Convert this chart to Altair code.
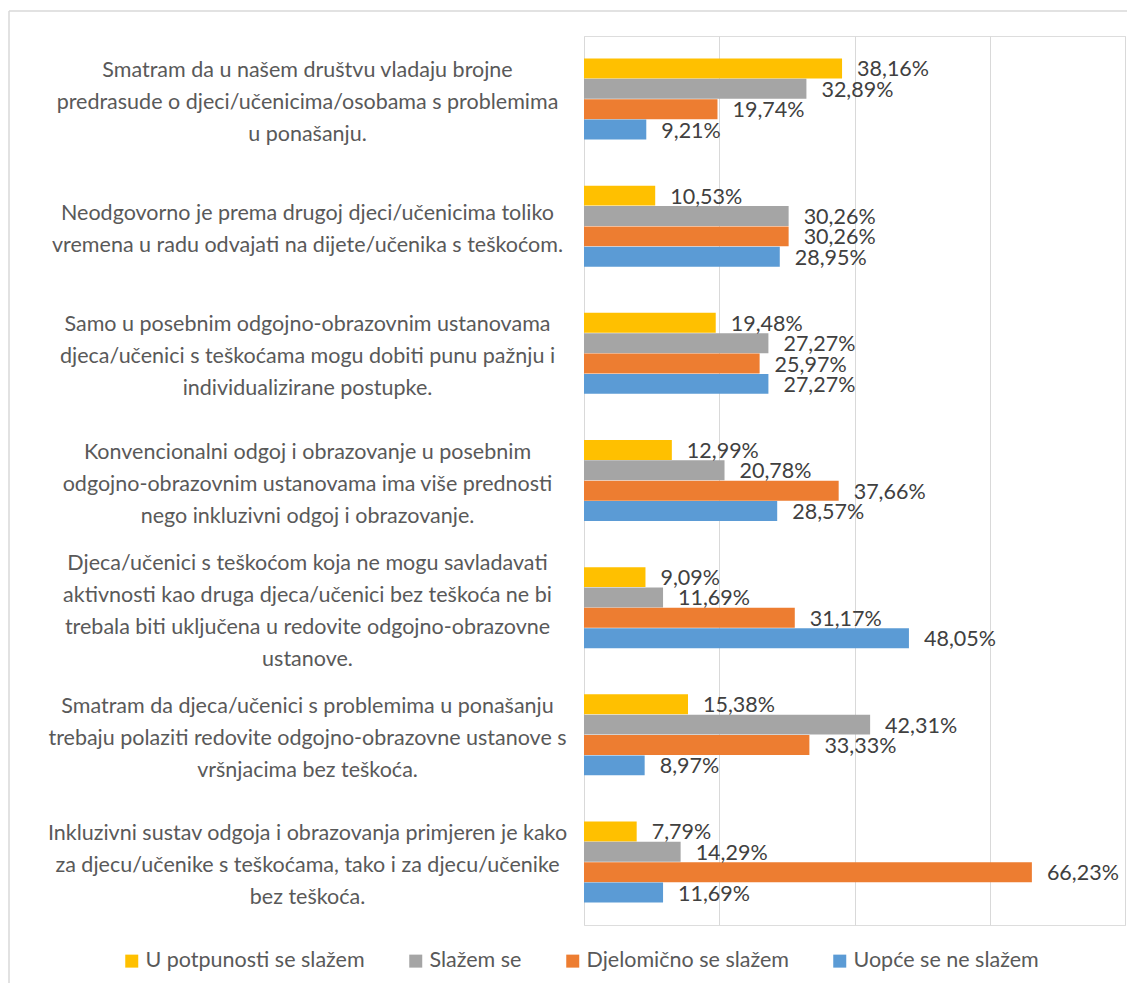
import altair as alt
import pandas as pd

categories = [
    "Smatram da u našem društvu vladaju brojne\npredrasude o djeci/učenicima/osobama s problemima\nu ponašanju.",
    "Neodgovorno je prema drugoj djeci/učenicima toliko\nvremena u radu odvajati na dijete/učenika s teškoćom.",
    "Samo u posebnim odgojno-obrazovnim ustanovama\ndjeca/učenici s teškoćama mogu dobiti punu pažnju i\nindividualizirane postupke.",
    "Konvencionalni odgoj i obrazovanje u posebnim\nodgojno-obrazovnim ustanovama ima više prednosti\nnego inkluzivni odgoj i obrazovanje.",
    "Djeca/učenici s teškoćom koja ne mogu savladavati\naktivnosti kao druga djeca/učenici bez teškoća ne bi\ntrebala biti uključena u redovite odgojno-obrazovne\nustanove.",
    "Smatram da djeca/učenici s problemima u ponašanju\ntrebaju polaziti redovite odgojno-obrazovne ustanove s\nvršnjacima bez teškoća.",
    "Inkluzivni sustav odgoja i obrazovanja primjeren je kako\nza djecu/učenike s teškoćama, tako i za djecu/učenike\nbez teškoća.",
]

series = ["U potpunosti se slažem", "Slažem se", "Djelomično se slažem", "Uopće se ne slažem"]
colors = ["#FFC000", "#A5A5A5", "#ED7D31", "#5B9BD5"]

u_potpunosti = [38.16, 10.53, 19.48, 12.99, 9.09, 15.38, 7.79]
slazem_se = [32.89, 30.26, 27.27, 20.78, 11.69, 42.31, 14.29]
djelomicno = [19.74, 30.26, 25.97, 37.66, 31.17, 33.33, 66.23]
uopce_ne = [9.21, 28.95, 27.27, 28.57, 48.05, 8.97, 11.69]

x_ticks = [0, 20, 40, 60, 80]

rows = []
for s, vals in zip(series, [u_potpunosti, slazem_se, djelomicno, uopce_ne]):
    for c, v in zip(categories, vals):
        rows.append({"cat": c, "series": s, "value": v,
                     "label": f"{v:.2f}".replace(".", ",") + "%"})
df = pd.DataFrame(rows)

FONT = "Lato"
LH = 32
NL = "length(split(datum.value, '\\n'))"

label_offset = {
    "condition": [
        {"test": f"{NL} == 2", "value": -LH * 0.5 + 4},
        {"test": f"{NL} == 4", "value": -LH * 1.5 + 4},
    ],
    "value": -LH + 4,
}

y_enc = alt.Y("cat:N", sort=categories,
              scale=alt.Scale(paddingInner=0.363, paddingOuter=0.177),
              axis=alt.Axis(title=None, domain=False, ticks=False,
                            labelAlign="center", labelPadding=277,
                            labelBaseline="middle",
                            labelExpr="split(datum.label, '\\n')",
                            labelOffset=label_offset,
                            labelLineHeight=LH, labelFontSize=21.5,
                            labelColor="#595959", labelFont=FONT,
                            labelLimit=0))
x_enc = alt.X("value:Q", scale=alt.Scale(domain=[0, 80], nice=False),
              axis=alt.Axis(title=None, labels=False, ticks=False, domain=False,
                            values=x_ticks, grid=True, gridColor="#D9D9D9",
                            gridWidth=1))
yoff = alt.YOffset("series:N", sort=series, scale=alt.Scale(paddingInner=0.02))

bars = alt.Chart(df).mark_bar().encode(
    y=y_enc, x=x_enc, yOffset=yoff,
    color=alt.Color("series:N", sort=series,
                    scale=alt.Scale(domain=series, range=colors),
                    legend=alt.Legend(title=None, orient="none", legendX=-463,
                                      legendY=914, direction="horizontal",
                                      columns=4, symbolType="square",
                                      symbolSize=169, symbolStrokeWidth=0,
                                      labelFontSize=21.5, labelFont=FONT,
                                      labelColor="#595959", columnPadding=40,
                                      labelOffset=3, labelLimit=0)),
)

labels = alt.Chart(df).mark_text(align="left", baseline="middle", dx=15, dy=2,
                                 fontSize=21.5, font=FONT, color="#404040").encode(
    y=alt.Y("cat:N", sort=categories), x="value:Q", yOffset=yoff, text="label:N"
)

frame_data = alt.Data(values=[{}])
frame_left = alt.Chart(frame_data).mark_rule(color="#D9D9D9", strokeWidth=1.5).encode(
    x=alt.value(-575), y=alt.value(-25), y2=alt.value(947))
frame_top = alt.Chart(frame_data).mark_rule(color="#D9D9D9", strokeWidth=1.5).encode(
    x=alt.value(-575), x2=alt.value(543), y=alt.value(-25))

chart = alt.layer(frame_left, frame_top, bars, labels).properties(
    width=541, height=889,
    autosize=alt.AutoSizeParams(type="none"),
    padding={"left": 576, "top": 28, "right": 2, "bottom": 58},
).configure_view(stroke=None).configure(font=FONT)

chart.save("out.html", embed_options={"renderer": "svg", "actions": False})
